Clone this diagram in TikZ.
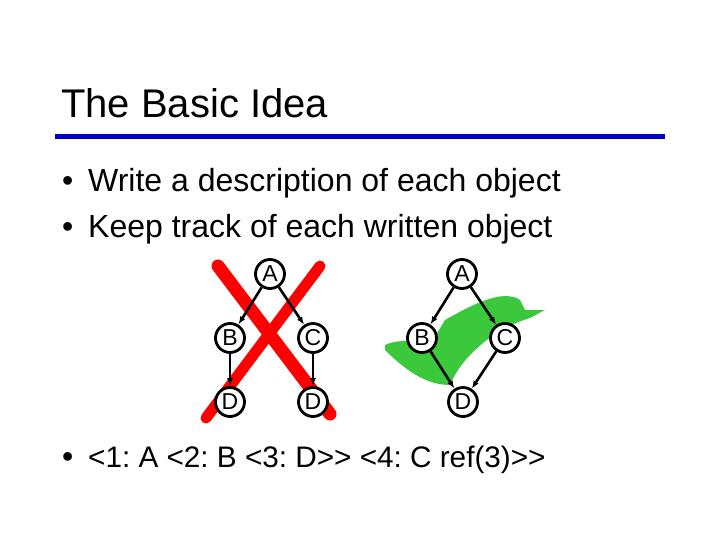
\documentclass[tikz,border=0pt]{standalone}
\usepackage{fontspec}
\setmainfont{Liberation Sans}
\usetikzlibrary{arrows.meta}
\definecolor{chk}{RGB}{60,200,60}
\begin{document}
\frenchspacing
\begin{tikzpicture}[x=1pt,y=-1pt,
  gn/.style={circle,draw=black,line width=2.8pt,minimum size=29pt,inner sep=0pt,fill=white,font=\fontsize{23}{23}\selectfont},
  ed/.style={-{Latex[length=8pt,width=6pt]},line width=2.6pt},
  txt/.style={anchor=base west,inner sep=0pt}]
\useasboundingbox (0,0) rectangle (720,540);
\fill[white] (0,0) rectangle (720,540);
% strikes
\draw[red,line width=13pt,line cap=round] (218,266) -- (330,414);
\draw[red,line width=11pt,line cap=round] (320,266) -- (206,418);
\fill[chk] (385,345) .. controls (400,338) and (415,342) .. (430,345)
  -- (445,320) .. controls (480,300) and (505,290) .. (520,300)
  -- (525,310) -- (545,310) -- (530,318) .. controls (490,330) and (460,360) .. (450,385)
  .. controls (430,385) and (410,375) .. (385,350) -- cycle;
% left graph
\node[gn] (a1) at (270,274) {A};
\node[gn] (b1) at (230,338) {B};
\node[gn] (c1) at (313,338) {C};
\node[gn] (d1) at (230,402) {D};
\node[gn] (e1) at (313,402) {D};
\draw[ed] (a1) -- (b1); \draw[ed] (a1) -- (c1);
\draw[ed] (b1) -- (d1); \draw[ed] (c1) -- (e1);
% right graph
\node[gn] (a2) at (462,274) {A};
\node[gn] (b2) at (422,338) {B};
\node[gn] (c2) at (505,338) {C};
\node[gn] (d2) at (463,402) {D};
\draw[ed] (a2) -- (b2); \draw[ed] (a2) -- (c2);
\draw[ed] (b2) -- (d2); \draw[ed] (c2) -- (d2);
% text
\node[txt,font=\fontsize{40}{40}\selectfont] (title) at (61,118) {The Basic Idea};
\draw[blue!80!black,line width=5pt] (55,137) coordinate (l1) -- (665,137) coordinate (l2);
\begin{scope}[every node/.style={txt,font=\fontsize{32}{32}\selectfont}]
\node (p1) at (62,192) {•}; \node (t1) at (88,192) {Write a description of each object};
\node (p2) at (62,237) {•}; \node (t2) at (88,237) {Keep track of each written object};
\node (p3) at (62,467) {•}; \node[font=\fontsize{29.7}{30}\selectfont] (t3) at (88,467) {<1: A <2: B <3: D>{}> <4: C ref(3)>{}>};
\end{scope}
\end{tikzpicture}
\end{document}
